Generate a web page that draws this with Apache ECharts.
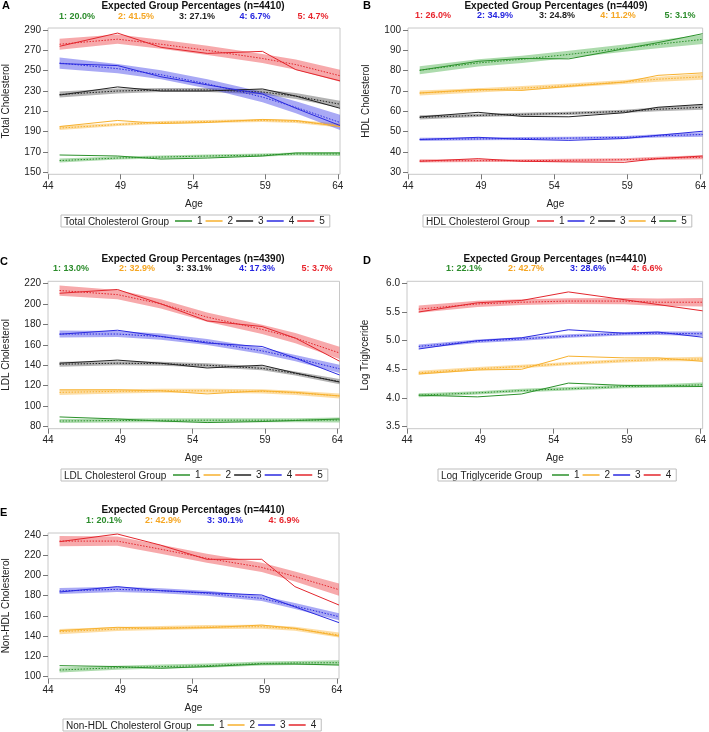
<!DOCTYPE html>
<html><head><meta charset="utf-8">
<script src="https://cdn.jsdelivr.net/npm/echarts@6/dist/echarts.min.js"></script>
<style>html,body{margin:0;padding:0;background:#fff}#c{width:709px;height:732px}</style>
</head><body><div id="c"></div>
<script>
// ---------- DATA ----------
const ages = [44.8, 48.8, 51.8, 55.0, 58.8, 61.1, 64.15];
const xTicks = [44, 49, 54, 59, 64];

// A: Total Cholesterol
const tcN = 4410;
const tcPct = [20.0, 41.5, 27.1, 6.7, 4.7];
const tcTicks = [150, 170, 190, 210, 230, 250, 270, 290];
const tcObs = [
  [167, 166, 163, 164, 166, 169, 169],
  [195, 201, 198, 199, 202, 201, 195],
  [226, 234, 230, 230, 232, 225, 213],
  [257, 255, 244, 236, 227, 213, 196],
  [274, 287, 273, 267, 269, 251, 240]
];
const tcExp = [
  [161.5, 164, 165, 166, 167, 168, 168],
  [193.5, 197, 199, 200, 201, 200, 196],
  [226.5, 230, 231, 231, 229, 225, 217],
  [257.5, 252, 246, 237, 224, 214, 199],
  [276, 281, 276, 270, 262, 256, 245]
];
const tcHalf = [
  [2, 1.5, 1.5, 1.5, 1.5, 1.5, 2],
  [2, 1.5, 1.5, 1.5, 1.5, 1.5, 2],
  [3, 2.5, 2, 2, 2.5, 3, 3.5],
  [5.5, 4.5, 4.5, 4.5, 5, 6, 7.5],
  [5.5, 4.5, 4.5, 4.5, 4.5, 5, 6]
];

// B: HDL Cholesterol
const hdlN = 4409;
const hdlPct = [26.0, 34.9, 24.8, 11.2, 3.1];
const hdlTicks = [30, 40, 50, 60, 70, 80, 90, 100];
const hdlObs = [
  [35.4, 36.7, 35.4, 35.1, 34.9, 36.7, 38.0],
  [46.1, 47.2, 46.2, 45.7, 46.6, 48.2, 50.2],
  [57.2, 59.5, 57.5, 57.3, 59.3, 62.0, 63.4],
  [69.0, 70.8, 70.3, 72.3, 74.4, 77.7, 78.9],
  [80.2, 84.6, 86.0, 85.8, 90.8, 93.8, 98.2]
];
const hdlExp = [
  [35.6, 35.7, 35.7, 35.9, 36.2, 36.8, 37.4],
  [46.2, 46.4, 46.6, 46.8, 47.2, 47.9, 48.6],
  [57.0, 58.0, 58.5, 59.0, 60.0, 61.0, 62.0],
  [69.0, 70.3, 71.4, 72.7, 74.4, 75.8, 77.0],
  [80.2, 83.8, 85.6, 88.0, 91.1, 93.0, 95.4]
];
const hdlHalf = [
  [0.8, 0.7, 0.7, 0.7, 0.7, 0.8, 1.0],
  [0.8, 0.7, 0.7, 0.7, 0.7, 0.8, 1.1],
  [1.0, 0.8, 0.8, 0.8, 0.8, 1.0, 1.2],
  [1.2, 1.0, 1.0, 1.0, 1.0, 1.2, 1.5],
  [2.0, 1.8, 1.8, 1.8, 1.8, 2.0, 2.3]
];

// C: LDL Cholesterol
const ldlN = 4390;
const ldlPct = [13.0, 32.9, 33.1, 17.3, 3.7];
const ldlTicks = [80, 100, 120, 140, 160, 180, 200, 220];
const ldlObs = [
  [89.5, 87.5, 85.5, 84.0, 85.0, 86.0, 87.5],
  [116, 116, 115, 112, 115, 113.5, 110],
  [142, 145, 142, 137.3, 140, 132.4, 123.6],
  [170.3, 174.2, 168.2, 161.7, 158.3, 147, 130.5],
  [210.3, 214, 200, 183.3, 177.8, 166.5, 144]
];
const ldlExp = [
  [85.5, 86, 86.2, 86.3, 86.3, 86.3, 86.5],
  [113.5, 114.5, 115, 115, 114.5, 113, 110],
  [141, 142, 141.5, 140, 137, 132, 124],
  [170.5, 170.5, 168, 162.7, 154, 147, 136.5],
  [213, 209, 200, 187, 175, 166.5, 152]
];
const ldlHalf = [
  [2, 2, 2, 2, 2, 2, 2.5],
  [2.5, 2, 2, 2, 2, 2, 2.5],
  [2.5, 2, 2, 2, 2, 2, 2.5],
  [3.5, 3, 3, 3, 3, 3, 4],
  [5, 4.5, 4.5, 4.5, 4.5, 5, 6]
];

// D: Log Triglyceride
const tgN = 4410;
const tgPct = [22.1, 42.7, 28.6, 6.6];
const tgTicks = [3.5, 4.0, 4.5, 5.0, 5.5, 6.0];
const tgObs = [
  [4.05, 4.02, 4.07, 4.26, 4.22, 4.21, 4.20],
  [4.42, 4.49, 4.50, 4.73, 4.70, 4.70, 4.64],
  [4.855, 5.00, 5.05, 5.19, 5.13, 5.15, 5.06],
  [5.50, 5.66, 5.70, 5.85, 5.715, 5.63, 5.52]
];
const tgExp = [
  [4.05, 4.09, 4.13, 4.16, 4.20, 4.21, 4.23],
  [4.44, 4.51, 4.55, 4.60, 4.65, 4.67, 4.68],
  [4.90, 4.99, 5.03, 5.08, 5.12, 5.13, 5.12],
  [5.55, 5.64, 5.67, 5.69, 5.69, 5.67, 5.67]
];
const tgHalf = [
  [0.035, 0.03, 0.03, 0.03, 0.03, 0.03, 0.04],
  [0.035, 0.03, 0.03, 0.03, 0.03, 0.03, 0.04],
  [0.035, 0.03, 0.03, 0.03, 0.03, 0.03, 0.04],
  [0.065, 0.055, 0.05, 0.05, 0.055, 0.065, 0.075]
];

// E: Non-HDL Cholesterol
const nhN = 4410;
const nhPct = [20.1, 42.9, 30.1, 6.9];
const nhTicks = [100, 120, 140, 160, 180, 200, 220, 240];
const nhObs = [
  [110.9, 110, 108.3, 110, 112.5, 112.5, 111.5],
  [145.5, 148.8, 147.8, 148.4, 151, 147.8, 140.2],
  [183.7, 189, 185, 183, 180.7, 169, 153.4],
  [233.4, 241, 230, 216, 216, 189, 170.8]
];
const nhExp = [
  [106.6, 108.9, 110, 110.9, 113, 113.6, 113.8],
  [144.5, 147.1, 148.1, 149.1, 149.4, 147.4, 141.2],
  [184.7, 186.3, 185, 182.4, 177.4, 169.8, 159.3],
  [234, 234, 226, 217, 208, 199, 186]
];
const nhHalf = [
  [2.5, 2, 2, 2, 2, 2, 2.5],
  [2.5, 2, 2, 2, 2, 2, 2.5],
  [3, 2.5, 2.5, 2.5, 2.5, 3, 3.5],
  [5, 4.5, 4.5, 4.5, 4.5, 5, 6]
];

const panels = [
  {key: 'A', yName: 'Total Cholesterol', legendTitle: 'Total Cholesterol Group', n: tcN, pct: tcPct, ticks: tcTicks, obs: tcObs, exp: tcExp, half: tcHalf},
  {key: 'B', yName: 'HDL Cholesterol', legendTitle: 'HDL Cholesterol Group', n: hdlN, pct: hdlPct, ticks: hdlTicks, obs: hdlObs, exp: hdlExp, half: hdlHalf},
  {key: 'C', yName: 'LDL Cholesterol', legendTitle: 'LDL Cholesterol Group', n: ldlN, pct: ldlPct, ticks: ldlTicks, obs: ldlObs, exp: ldlExp, half: ldlHalf},
  {key: 'D', yName: 'Log Triglyceride', legendTitle: 'Log Triglyceride Group', n: tgN, pct: tgPct, ticks: tgTicks, obs: tgObs, exp: tgExp, half: tgHalf},
  {key: 'E', yName: 'Non-HDL Cholesterol', legendTitle: 'Non-HDL Cholesterol Group', n: nhN, pct: nhPct, ticks: nhTicks, obs: nhObs, exp: nhExp, half: nhHalf}
];

// ---------- LAYOUT / STYLE ----------
const FONT = "'Liberation Sans', Arial, Helvetica, sans-serif";
const TXT = '#222';
const palette = {
  green:  {line: '#2b912b', band: 'rgba(50,165,50,0.40)',  text: '#2b8c2b'},
  orange: {line: '#f7b12e', band: 'rgba(250,180,50,0.45)', text: '#f5a623'},
  black:  {line: '#222222', band: 'rgba(0,0,0,0.30)',      text: '#222222'},
  blue:   {line: '#2a2ae0', band: 'rgba(40,40,230,0.40)',  text: '#2424e0'},
  red:    {line: '#e3262d', band: 'rgba(235,40,45,0.40)',  text: '#e8252d'}
};
const layout = [
  {colors: ['green','orange','black','blue','red'], letter: [2, 6], title: [193, 6], subY: 17, subXs: [77,136,197,255,313],
   grid: {left: 47, top: 28, width: 293, height: 146.3}, yMin: 148, yMax: 292, dec: 0, legend: [61, 215, 114]},
  {colors: ['red','blue','black','orange','green'], letter: [363, 6], title: [556, 6], subY: 16, subXs: [433,495,557,618,680],
   grid: {left: 408, top: 28, width: 297, height: 146.3}, yMin: 29, yMax: 101, dec: 0, legend: [423, 215, 114]},
  {colors: ['green','orange','black','blue','red'], letter: [0, 262], title: [193, 259], subY: 269, subXs: [71,137,194,257,317],
   grid: {left: 46.5, top: 281.3, width: 293, height: 147.4}, yMin: 78, yMax: 222, dec: 0, legend: [61, 469, 112]},
  {colors: ['green','orange','blue','red'], letter: [363, 261], title: [555, 259], subY: 269, subXs: [464,526,588,647],
   grid: {left: 407, top: 281.3, width: 297.6, height: 147.4}, yMin: 3.465, yMax: 6.035, dec: 1, legend: [438, 469, 114]},
  {colors: ['green','orange','blue','red'], letter: [0, 513], title: [193, 510], subY: 521, subXs: [104,163,225,284],
   grid: {left: 46, top: 533, width: 293, height: 145.7}, yMin: 98, yMax: 242, dec: 0, legend: [63, 719, 134]}
];

// ---------- BUILD ----------
const grids = [], xAxes = [], yAxes = [], series = [], legends = [], graphics = [];

function bandRender(color) {
  return function (params, api) {
    if (params.dataIndexInside !== 0) return null;
    const n = params.dataInsideLength;
    const top = [], bot = [];
    for (let i = 0; i < n; i++) {
      top.push(api.coord([api.value(0, i), api.value(2, i)]));
      bot.push(api.coord([api.value(0, i), api.value(1, i)]));
    }
    return {type: 'polygon', shape: {points: top.concat(bot.reverse())}, style: {fill: color}, silent: true};
  };
}

panels.forEach((p, i) => {
  const L = layout[i];
  grids.push(Object.assign({show: true, borderColor: '#c8c8c8', borderWidth: 1, backgroundColor: '#fff'}, L.grid));
  xAxes.push({
    type: 'value', gridIndex: i, min: 44, max: 64.15,
    name: 'Age', nameLocation: 'middle', nameGap: 25,
    nameTextStyle: {fontSize: 10, color: TXT, fontFamily: FONT},
    axisLine: {show: false, onZero: false},
    axisTick: {show: true, length: 5, customValues: xTicks, lineStyle: {color: '#777'}},
    axisLabel: {customValues: xTicks, fontSize: 10, color: TXT, margin: 7, fontFamily: FONT},
    splitLine: {show: false}
  });
  yAxes.push({
    type: 'value', gridIndex: i, min: L.yMin, max: L.yMax,
    name: p.yName, nameLocation: 'middle', nameGap: 37,
    nameTextStyle: {fontSize: 10, color: TXT, fontFamily: FONT},
    axisLine: {show: false, onZero: false},
    axisTick: {show: true, length: 5, customValues: p.ticks, lineStyle: {color: '#777'}},
    axisLabel: {customValues: p.ticks, fontSize: 10, color: TXT, margin: 7, fontFamily: FONT,
      formatter: v => Number(v).toFixed(L.dec)},
    splitLine: {show: false}
  });

  const obsNames = [];
  p.obs.forEach((_, g) => {
    const c = palette[L.colors[g]];
    series.push({
      type: 'custom', name: p.key + ' band ' + (g + 1), xAxisIndex: i, yAxisIndex: i, silent: true, clip: true,
      data: ages.map((a, k) => [a, p.exp[g][k] - p.half[g][k], p.exp[g][k] + p.half[g][k]]),
      encode: {x: 0, y: [1, 2]},
      renderItem: bandRender(c.band)
    });
  });
  p.obs.forEach((_, g) => {
    const c = palette[L.colors[g]];
    series.push({
      type: 'line', name: p.key + ' expected ' + (g + 1), xAxisIndex: i, yAxisIndex: i, silent: true,
      symbol: 'none', data: ages.map((a, k) => [a, p.exp[g][k]]),
      lineStyle: {color: c.line, width: 1, type: [1.5, 1.5]}, itemStyle: {color: c.line}
    });
  });
  p.obs.forEach((arr, g) => {
    const c = palette[L.colors[g]];
    const nm = p.key + '-' + (g + 1);
    obsNames.push(nm);
    series.push({
      type: 'line', name: nm, xAxisIndex: i, yAxisIndex: i, silent: true,
      symbol: 'none', data: ages.map((a, k) => [a, arr[k]]),
      lineStyle: {color: c.line, width: 1}, itemStyle: {color: c.line}
    });
  });

  legends.push({
    data: obsNames, left: L.legend[0], top: L.legend[1], orient: 'horizontal',
    icon: 'rect', itemWidth: 17, itemHeight: 1.5, itemGap: 3,
    padding: [1, 5, 1, L.legend[2]], borderColor: '#bdbdbd', borderWidth: 1,
    selectedMode: false,
    textStyle: {fontSize: 10, color: TXT, fontFamily: FONT},
    formatter: nm => nm.split('-')[1]
  });

  graphics.push({type: 'text', x: L.letter[0], y: L.letter[1], silent: true,
    style: {text: p.key, fill: '#000', font: 'bold 11px ' + FONT, align: 'left', verticalAlign: 'middle'}});
  graphics.push({type: 'text', x: L.title[0], y: L.title[1], silent: true,
    style: {text: 'Expected Group Percentages (n=' + p.n + ')', fill: '#111', font: 'bold 10px ' + FONT, align: 'center', verticalAlign: 'middle'}});
  p.pct.forEach((v, g) => {
    graphics.push({type: 'text', x: L.subXs[g], y: L.subY, silent: true,
      style: {text: (g + 1) + ': ' + v.toFixed(1) + '%', fill: palette[L.colors[g]].text, font: 'bold 9px ' + FONT, align: 'center', verticalAlign: 'middle'}});
  });
  graphics.push({type: 'text', x: L.legend[0] + 3, y: L.legend[1] + 7, silent: true,
    style: {text: p.legendTitle, fill: TXT, font: '10px ' + FONT, align: 'left', verticalAlign: 'middle'}});
});

const chart = echarts.init(document.getElementById('c'), null, {renderer: 'canvas'});
chart.setOption({
  animation: false,
  backgroundColor: '#fff',
  textStyle: {fontFamily: FONT},
  grid: grids, xAxis: xAxes, yAxis: yAxes, series: series, legend: legends,
  graphic: {elements: graphics}
});
</script></body></html>
